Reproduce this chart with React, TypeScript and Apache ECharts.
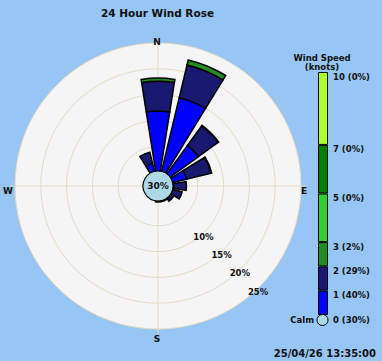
import { useEffect, useRef } from 'react';
import * as echarts from 'echarts';

// ---- data ----
const directions = ['N', 'NNE', 'NE', 'ENE', 'E', 'ESE', 'SE', 'SSE', 'S', 'SSW', 'SW', 'WSW', 'W', 'WNW', 'NW', 'NNW'];
const speedBins = [1, 2, 3, 5, 7, 10]; // upper bound of each speed bin (knots)
const speedPct = [40, 29, 2, 0, 0, 0];
const calmPct = 30;
const binColors = ['#0000ff', '#191970', '#228b22', '#32cd32', '#008000', '#adff2f'];
// percent of time per direction, per speed bin
const rose0to1 = [11.8, 14.9, 7.0, 3.0, 0.3, 0.2, 0.3, 0.4, 0.1, 0, 0, 0, 0, 0, 0, 1.8];
const rose1to2 = [5.8, 6.5, 4.7, 4.9, 2.5, 1.9, 0.6, 0, 0.3, 0, 0, 0, 0, 0, 0, 2.2];
const rose2to3 = [0.6, 1.0, 0.1, 0.1, 0, 0, 0, 0, 0, 0, 0, 0, 0, 0, 0, 0];
const rose3to5 = [0, 0, 0, 0, 0, 0, 0, 0, 0, 0, 0, 0, 0, 0, 0, 0];
const rose5to7 = [0, 0, 0, 0, 0, 0, 0, 0, 0, 0, 0, 0, 0, 0, 0, 0];
const rose7to10 = [0, 0, 0, 0, 0, 0, 0, 0, 0, 0, 0, 0, 0, 0, 0, 0];
const roseBins = [rose0to1, rose1to2, rose2to3, rose3to5, rose5to7, rose7to10];
const radialMax = 25;
const radialStep = 5;
const radialLabelMin = 10;
const compassLabels = ['N', 'E', 'S', 'W'];
const titleText = '24 Hour Wind Rose';
const legendTitle = 'Wind Speed\n(knots)';
const dateText = '25/04/26 13:35:00';

const font = 'DejaVu Sans';
const ink = '#111111';
const tan = '#e3dbc1';
const C = [158, 186];
const LC = [157, 190.5];

const hidden = {
  axisLine: { show: false },
  axisTick: { show: false },
  axisLabel: { show: false },
  splitLine: { show: false },
  splitArea: { show: false },
};

const txt = (size: number) => ({ fontFamily: font, fontWeight: 'bold' as const, fontSize: size, color: ink });

function buildOption() {
  const roseSeries = roseBins
    .map((arr, i) => ({ arr, i }))
    .filter(({ arr }) => arr.some((v) => v > 0))
    .map(({ arr, i }) => ({
      type: 'bar',
      coordinateSystem: 'polar',
      polarIndex: 0,
      stack: 'rose',
      name: `${speedBins[i]}`,
      data: arr.map((v) => (v > 0 ? v : '-')),
      barCategoryGap: '20%',
      itemStyle: { color: binColors[i], borderColor: '#000', borderWidth: 1.5 },
      silent: true,
      z: 2,
    }));

  const legendSeries = speedBins.map((b, i) => ({
    type: 'bar',
    xAxisIndex: 0,
    yAxisIndex: 0,
    stack: 'legend',
    barWidth: '100%',
    data: [b - (i ? speedBins[i - 1] : 0)],
    itemStyle: { color: binColors[i], borderColor: '#000', borderWidth: 1 },
    silent: true,
    z: 2,
  }));

  const legendLabel = (v: number) => {
    if (v === 0) return `0 (${calmPct}%)`;
    const k = speedBins.indexOf(v);
    return k >= 0 ? `${v} (${speedPct[k]}%)` : '';
  };

  return {
    animation: false,
    backgroundColor: '#97c5f4',
    title: [
      { text: titleText, left: 157.5, top: 7, textAlign: 'center', padding: 0, textStyle: txt(10.5) },
      { text: legendTitle, left: 322, top: 53, textAlign: 'center', padding: 0, textStyle: { ...txt(8.5), lineHeight: 9 } },
      { text: dateText, left: 376, top: 348, textAlign: 'right', padding: 0, textStyle: txt(10) },
    ],
    polar: [
      { center: C, radius: [14, 143] }, // bars + disk fill
      { center: C, radius: [14, 148] }, // compass cross lines
      { center: LC, radius: [14, 143] }, // compass labels
      { center: LC, radius: [14, 143] }, // ring labels along SE
      { center: C, radius: [14, 143] }, // ring lines
    ],
    angleAxis: [
      { polarIndex: 0, type: 'category', data: directions, startAngle: 90 + 180 / directions.length, clockwise: true, boundaryGap: true, ...hidden, z: 0 },
      {
        polarIndex: 1, type: 'value', min: 0, max: 360, interval: 90, startAngle: 90, clockwise: true,
        ...hidden, splitLine: { show: true, lineStyle: { color: tan, width: 1 } }, z: 1,
      },
      {
        polarIndex: 2, type: 'value', min: 0, max: 360, interval: 90, startAngle: 90, clockwise: true,
        ...hidden,
        axisLabel: { show: true, margin: 1, formatter: (v: number) => (v < 360 ? compassLabels[v / 90] : ''), ...txt(9) },
        z: 3,
      },
      { polarIndex: 3, type: 'value', min: 0, max: 360, interval: 90, startAngle: -45, clockwise: true, ...hidden },
      { polarIndex: 4, type: 'value', min: 0, max: 360, interval: 90, startAngle: 90, clockwise: true, ...hidden },
    ],
    radiusAxis: [
      {
        polarIndex: 0, type: 'value', min: 0, max: radialMax, interval: radialStep, ...hidden,
        splitArea: { show: true, areaStyle: { color: ['#f5f5f5'] } },
        z: 0,
      },
      { polarIndex: 1, type: 'value', min: 0, max: radialMax, ...hidden },
      { polarIndex: 2, type: 'value', min: 0, max: radialMax, ...hidden },
      {
        polarIndex: 3, type: 'value', min: 0, max: radialMax, interval: radialStep, ...hidden,
        axisLabel: {
          show: true, margin: 0, align: 'center', verticalAlign: 'middle',
          formatter: (v: number) => (v >= radialLabelMin ? `${v}%` : ''), ...txt(8.5),
        },
        z: 3,
      },
      {
        polarIndex: 4, type: 'value', min: 0, max: radialMax, interval: radialStep, ...hidden,
        splitLine: { show: true, lineStyle: { color: tan, width: 1 } },
        z: 1,
      },
    ],
    grid: [{ left: 318, top: 72, width: 10, height: 243 }],
    xAxis: [{ gridIndex: 0, type: 'category', data: ['speed'], show: false }],
    yAxis: [
      {
        gridIndex: 0, type: 'value', position: 'right', min: 0, max: speedBins[speedBins.length - 1], interval: 1,
        axisLine: { show: false }, axisTick: { show: false }, splitLine: { show: false },
        axisLabel: { margin: 5, verticalAlign: 'top', formatter: legendLabel, ...txt(8.5) },
      },
      {
        gridIndex: 0, type: 'value', position: 'left', min: 0, max: speedBins[speedBins.length - 1], interval: 1,
        axisLine: { show: false }, axisTick: { show: false }, splitLine: { show: false },
        axisLabel: { margin: 4, verticalAlign: 'top', formatter: (v: number) => (v === 0 ? 'Calm' : ''), ...txt(8.5) },
      },
    ],
    series: [
      ...roseSeries,
      {
        type: 'pie', center: C, radius: [0, 15], silent: true, z: 5,
        data: [{ value: calmPct, name: 'Calm' }],
        itemStyle: { color: '#add8e6', borderColor: '#000', borderWidth: 1.2 },
        label: { show: true, position: 'center', formatter: `${calmPct}%`, ...txt(9) },
        labelLine: { show: false },
        emphasis: { disabled: true },
      },
      ...legendSeries,
      {
        type: 'pie', center: [322.5, 320], radius: [0, 5.5], silent: true, z: 5,
        data: [{ value: calmPct, name: 'Calm legend' }],
        itemStyle: { color: '#add8e6', borderColor: '#000', borderWidth: 1 },
        label: { show: false }, labelLine: { show: false },
        emphasis: { disabled: true },
      },
    ],
  };
}

export default function App() {
  const ref = useRef<HTMLDivElement>(null);
  useEffect(() => {
    const chart = echarts.init(ref.current!, undefined, { renderer: 'svg', width: 382, height: 361 });
    chart.setOption(buildOption() as any);
    return () => chart.dispose();
  }, []);
  return <div ref={ref} style={{ position: 'absolute', left: 0, top: 0, width: 382, height: 361 }} />;
}
